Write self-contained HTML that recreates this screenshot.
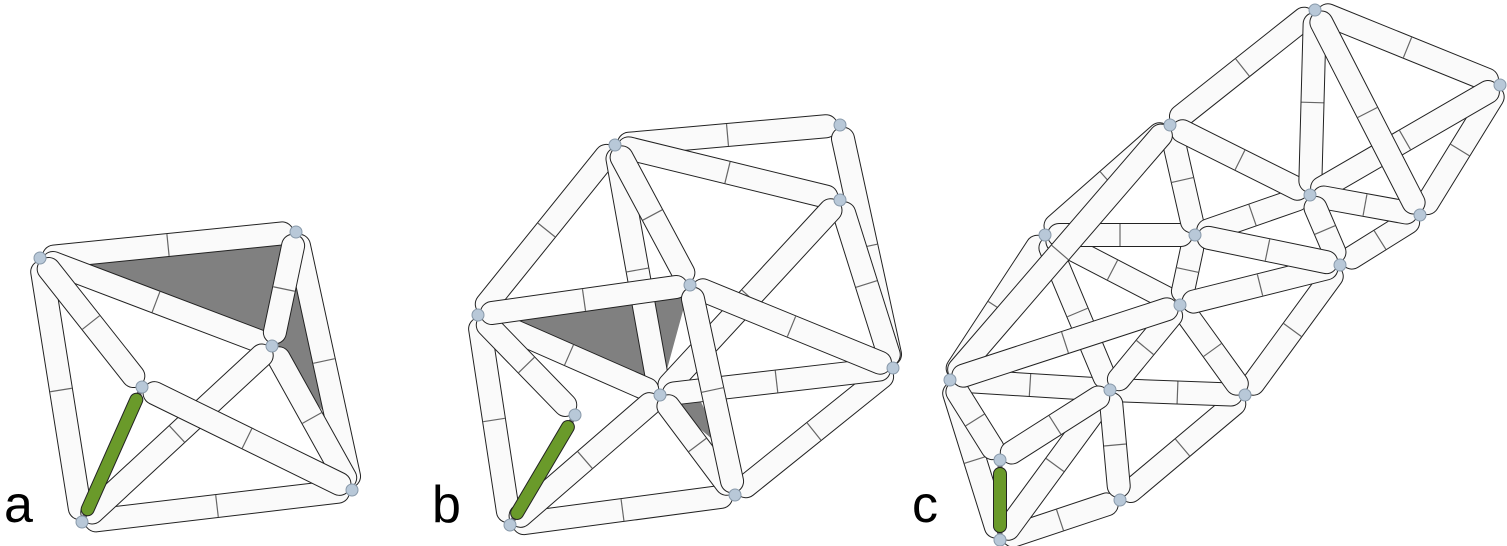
<!DOCTYPE html>
<html><head><meta charset="utf-8">
<style>
html,body{margin:0;padding:0;background:#fff;}
svg{display:block;}
text{font-family:"Liberation Sans",sans-serif;font-size:52px;fill:#000;}
</style></head>
<body>
<svg id="fig" width="1507" height="546" viewBox="0 0 1507 546" xmlns="http://www.w3.org/2000/svg">
<g id="shade"></g>
<g id="struts"></g>
<g id="nodes"></g>
<text x="4" y="522">a</text>
<text x="432" y="522">b</text>
<text x="912" y="522">c</text>
</svg>
<script>
const nodesA=[[40,258],[296,232],[272,346],[82,522],[352,490],[142,387]];
const strutsA=[[0,1],[0,3],[1,4],[3,4],[0,2],[1,2],[2,4],[2,3],[5,0],[5,4],[5,3,'g']];
const shadeA=[[[50,255],[296,232],[272,346]],[[296,232],[272,346],[330,420]]];
const nodesB=[[615,145],[840,125],[840,200],[893,368],[478,315],[660,395],[510,525],[735,495],[690,285],[575,415]];
const strutsB=[[0,1],[1,3],[0,4],[4,6],[6,7],[7,3],[0,2],[2,3],[0,5],[2,5],[4,5],[5,3],[5,6],[5,7],[9,4],[9,6,'g'],[8,0],[8,4],[8,3],[8,7]];
const shadeB=[[[490,312],[690,285],[660,395]],[[660,395],[690,380],[725,450]]];
const nodesC=[[1000,540],[950,380],[1045,235],[1110,390],[1245,395],[1170,125],[1315,10],[1500,85],[1420,215],[1310,195],[1340,265],[1180,305],[1195,235],[1120,500],[1000,460]];
const strutsC=[[0,1],[1,2],[2,5],[5,6],[6,7],[7,8],[8,10],[10,4],[4,13],[13,0],[0,3],[1,3],[3,4],[2,3],[2,11],[11,4],[3,11],[11,12],[12,2],[12,5],[12,9],[9,5],[9,6],[9,7],[9,8],[9,10],[10,11],[12,10],[5,1],[3,13],[14,0,'g'],[14,1],[14,3],[6,8],[1,11]];
function add(par,tag,attrs){const e=document.createElementNS('http://www.w3.org/2000/svg',tag);for(const k in attrs)e.setAttribute(k,attrs[k]);par.appendChild(e);return e;}
const gS=document.getElementById('shade'),gT=document.getElementById('struts'),gN=document.getElementById('nodes');
function draw(nodes,struts,shades,id){
  shades.forEach(p=>{const e=add(gS,'polygon',{points:p.map(q=>q.join(',')).join(' '),fill:'#808080'});
    
    });
  struts.forEach(s=>{const a=nodes[s[0]],b=nodes[s[1]];const g=s[2]==='g';
    const dx=b[0]-a[0],dy=b[1]-a[1],L=Math.hypot(dx,dy),ux=dx/L,uy=dy/L,m=14;
    const x1=a[0]+ux*m,y1=a[1]+uy*m,x2=b[0]-ux*m,y2=b[1]-uy*m;
    const grp=add(gT,'g',{});
    
    
    add(grp,'line',{x1:a[0],y1:a[1],x2:b[0],y2:b[1],stroke:'#666','stroke-width':5});
    add(grp,'line',{x1:x1,y1:y1,x2:x2,y2:y2,stroke:'#222','stroke-width':g?14:24,'stroke-linecap':'round'});
    add(grp,'line',{x1:x1,y1:y1,x2:x2,y2:y2,stroke:g?'#6a9a2a':'#fafafa','stroke-width':g?12:22,'stroke-linecap':'round'});
    if(!g){const mx=(a[0]+b[0])/2,my=(a[1]+b[1])/2;
      add(grp,'line',{x1:mx-uy*11,y1:my+ux*11,x2:mx+uy*11,y2:my-ux*11,stroke:'#666','stroke-width':1.2});}
  });
  nodes.forEach(n=>{const c=add(gN,'circle',{cx:n[0],cy:n[1],r:6,fill:'#b8c8d8',stroke:'#8899aa','stroke-width':1});
    
    });
}
draw(nodesA,strutsA,shadeA,'a');
draw(nodesB,strutsB,shadeB,'b');
draw(nodesC,strutsC,[],'c');
</script>
</body></html>
